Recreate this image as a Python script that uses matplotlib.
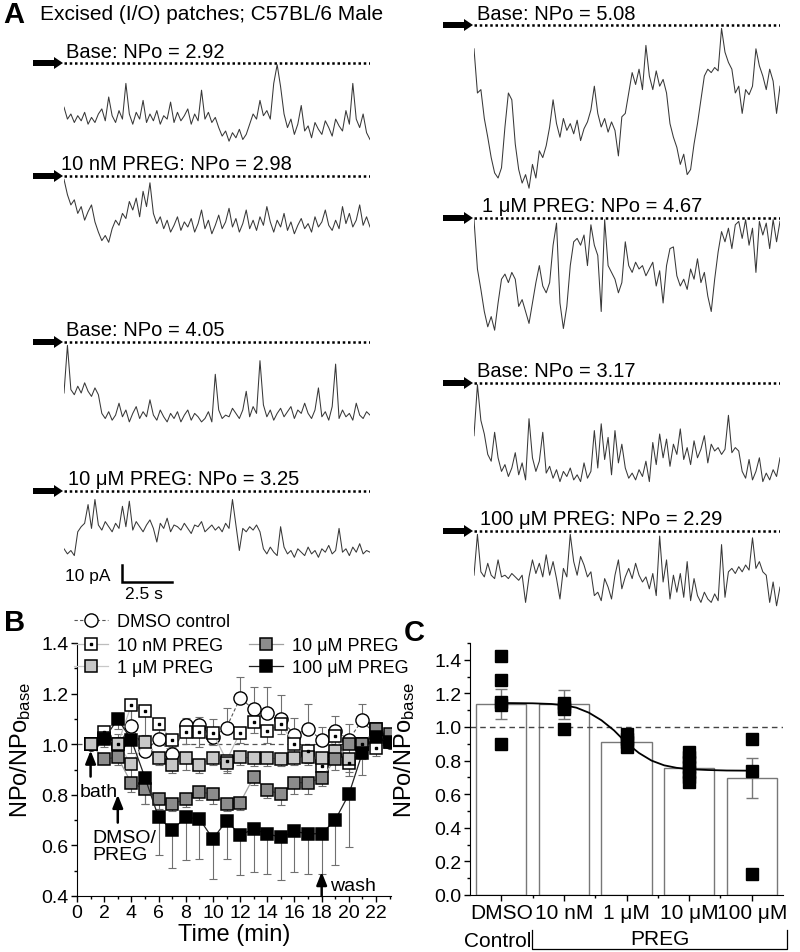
import numpy as np
import matplotlib
matplotlib.use('Agg')
import matplotlib.pyplot as plt
from matplotlib.lines import Line2D
from matplotlib.patches import FancyArrow
from matplotlib.ticker import MultipleLocator, FixedLocator, FormatStrFormatter
from matplotlib.legend_handler import HandlerTuple

plt.rcParams['font.family'] = ['Liberation Sans', 'DejaVu Sans']
plt.rcParams['mathtext.default'] = 'regular'

# ---------------- data ----------------
# Panel A: single-channel traces, current below closed level (pA)
trace_L1 = [26, 33, 30, 35, 31, 34, 29, 36, 32, 35,
            30, 27, 34, 20, 31, 35, 28, 33, 12, 30,
            36, 29, 33, 22, 35, 30, 34, 28, 36, 31,
            33, 23, 35, 29, 34, 31, 27, 36, 30, 34,
            16, 33, 29, 35, 32,
            38, 43, 40, 46, 41, 44, 39, 45, 42,
            36, 30, 33, 22, 31, 28, 33,
            12, 1, 14,
            30, 38, 33, 42, 36, 25, 40, 37, 44, 35,
            39, 42, 34, 38, 43, 33, 37, 40, 28, 36,
            12, 33, 38, 30, 41, 45]
trace_L2 = [2, 11, 17, 14, 22, 18, 26, 21, 17, 27,
            33, 38, 35, 39, 31, 26, 29, 22, 25, 15,
            20, 13, 24, 9, 18, 4,
            22, 28, 24, 31, 26, 33, 29, 24, 32, 27,
            30, 25, 33, 28, 20, 31, 26, 34, 29, 23,
            31, 27, 19, 30, 25, 33, 28, 20, 31, 26,
            32, 24, 29, 18, 27, 33, 26, 30, 22, 32,
            27, 34, 29, 25, 31, 28, 33, 24, 30, 27,
            20, 29, 32, 26, 31, 18, 28, 22, 30, 26,
            17, 29, 24, 30]
trace_L3 = [30, 2, 28,
            31, 26, 30, 24, 29, 32, 27, 31,
            42, 45, 41, 46, 43, 36, 44, 40, 47, 42,
            38, 45, 41, 44, 34, 43, 46, 40, 44, 47,
            42, 45, 41, 47, 43, 40, 46, 42, 44, 47,
            45, 41, 47, 19, 40, 45, 43, 44, 39, 42,
            45, 40, 29, 44, 38, 42, 11, 37, 44, 40,
            46, 42, 39, 44, 41, 38, 45, 40, 42, 36,
            42, 45, 40, 27, 44, 41, 46, 38, 13, 45,
            40, 44, 42, 46, 36, 43, 45, 41, 43]
trace_L4 = [34, 37, 35, 38,
            24, 21, 19, 8, 22, 5, 20, 23, 18, 21,
            24, 19, 22, 9, 21, 6, 23, 18, 21, 24,
            20, 17, 22, 30, 19, 22, 16, 24, 20, 21,
            23, 19, 22, 25, 20, 21, 18, 24, 22, 20,
            23, 21, 24, 19, 22, 5, 20, 35, 22, 24,
            21, 23, 20, 24,
            34, 37, 33, 36, 38, 21, 33, 37, 35, 39,
            34, 36, 38, 33, 37, 35, 39, 34, 36, 32,
            37, 35, 22, 36, 34, 38, 33, 36, 31, 37, 35, 36]
trace_R1 = [14, 40, 38, 55, 66, 78, 87, 90, 84, 60,
            40, 44, 70, 85, 93, 88, 96, 82, 90, 74,
            78, 71, 60, 44, 58, 66, 55, 62, 58, 64,
            56, 68, 61, 57, 50, 36, 52, 60, 55, 63,
            57, 62, 77, 54, 52, 40, 28, 35, 26, 38,
            12, 30, 38, 27, 36, 32, 40, 58, 66, 72,
            82, 76, 88, 85, 70, 58, 44, 30, 26, 28,
            25, 27, 2, 16, 22, 26, 40, 36, 52, 38,
            41, 36, 14, 24, 30, 38, 26, 33, 52, 36]
trace_R2 = [1, 30, 42, 55, 64, 58, 66, 50, 36, 33,
            38, 32, 36, 52, 48, 55, 62, 50, 38, 28,
            40, 44, 38, 16, 3, 50, 65, 52, 28, 14,
            12, 16, 10, 28, 4, 16, 22, 55, 1, 28,
            32, 36, 44, 38, 14, 28, 32, 26, 30, 28,
            34, 30, 26, 40, 31, 50, 28, 18, 17, 34,
            40, 36, 42, 30, 36, 24, 38, 32, 46, 55,
            36, 20, 8, 14, 6, 18, 4, 2, 12, 1,
            16, 6, 32, 2, 10, 3, 18, 1, 14, 2]
trace_R3 = [31, 1, 22, 30, 42, 46, 29, 44, 52, 48,
            55, 50, 41, 54, 47, 57, 21, 44, 52, 46,
            29, 53, 49, 56, 51, 58, 52, 55, 50, 57,
            54, 58, 47, 56, 52, 28, 50, 24, 45, 32,
            54, 28, 47, 36, 50, 56, 53, 57, 51, 55,
            46, 58, 35, 48, 30, 44, 33, 49, 36, 42,
            27, 45, 38, 48, 34, 44, 39, 31, 47, 36,
            40, 38, 42, 39, 19, 41, 38, 40, 52, 56,
            45, 57, 52, 44, 58, 53, 57, 51, 55, 44]
trace_R4 = [26, 2, 24, 27, 19, 26, 28, 17, 27, 26,
            28, 25, 27, 29, 26, 42, 27, 17, 25, 19,
            27, 14, 26, 18, 28, 40, 22, 27, 2, 18,
            26, 15, 20, 27, 24, 38, 36, 41, 28, 33,
            40, 26, 17, 34, 27, 22, 28, 19, 26, 30,
            27, 34, 25, 38, 3, 30, 17, 40, 26, 36,
            25, 39, 18, 41, 28, 38, 42, 36, 40, 42,
            37, 41, 8, 39, 24, 22, 25, 21, 24, 20,
            23, 4, 22, 18, 24, 26, 42, 30, 44, 33]
trace_labels_left = ['Base: NPo = 2.92', '10 nM PREG: NPo = 2.98',
                     'Base: NPo = 4.05', '10 μM PREG: NPo = 3.25']
trace_labels_right = ['Base: NPo = 5.08', '1 μM PREG: NPo = 4.67',
                      'Base: NPo = 3.17', '100 μM PREG: NPo = 2.29']

# Panel B: time course (min), NPo/NPo_base
time_min = np.arange(1, 24)
dmso = [1.00, 1.03, 1.00, 1.07, 0.975, 1.02, 0.96, 1.074, 1.076, 1.03, 1.066, 1.182,
        1.138, 1.122, 1.099, 1.037, 1.06, 1.017, 1.053, 1.018, 1.096, 1.03, 1.01]
dmso_err = [0.0, 0.03, 0.04, 0.08, 0.06, 0.085, 0.05, 0.03, 0.03, 0.07, 0.076, 0.085,
            0.087, 0.103, 0.096, 0.066, 0.10, 0.05, 0.057, 0.06, 0.064, 0.04, 0.03]
preg_10n = [1.00, 1.05, 1.00, 1.155, 1.133, 1.08, 1.017, 1.05, 1.047, 1.046, 0.935, 1.046,
            1.086, 1.053, 1.079, 1.00, 0.974, 0.912, 1.034, 0.925, 1.00, 0.984, 1.008]
preg_10n_err = [0.0, 0.03, 0.04, 0.10, 0.16, 0.05, 0.03, 0.05, 0.06, 0.05, 0.04, 0.04,
                0.04, 0.05, 0.04, 0.05, 0.05, 0.06, 0.06, 0.05, 0.06, 0.03, 0.02]
preg_1u = [1.00, 1.024, 1.00, 0.921, 1.01, 0.947, 0.918, 0.947, 0.918, 0.947, 0.925, 0.949,
           0.945, 0.945, 0.942, 0.947, 0.949, 0.947, 0.974, 0.942, 1.00, 1.06, 1.02]
preg_1u_err = [0.0, 0.02, 0.03, 0.06, 0.04, 0.03, 0.03, 0.05, 0.03, 0.03, 0.04, 0.03,
               0.03, 0.03, 0.03, 0.03, 0.03, 0.04, 0.04, 0.05, 0.04, 0.03, 0.02]
preg_10u = [1.00, 0.942, 0.948, 0.846, 0.823, 0.783, 0.764, 0.783, 0.81, 0.804, 0.764, 0.769,
            0.87, 0.817, 0.804, 0.848, 0.848, 0.866, 0.94, 1.00, 1.00, 1.06, 1.04]
preg_10u_err = [0.0, 0.02, 0.03, 0.036, 0.06, 0.04, 0.03, 0.03, 0.03, 0.04, 0.03, 0.03,
                0.03, 0.03, 0.043, 0.046, 0.046, 0.03, 0.04, 0.04, 0.04, 0.03, 0.03]
preg_100u = [1.00, 1.02, 1.10, 1.017, 0.868, 0.711, 0.661, 0.711, 0.705, 0.626, 0.697, 0.642,
             0.664, 0.646, 0.632, 0.655, 0.646, 0.646, 0.701, 0.802, 0.967, 1.03, 1.01]
preg_100u_err = [0.0, 0.03, 0.04, 0.05, 0.105, 0.15, 0.15, 0.17, 0.16, 0.16, 0.15, 0.16,
                 0.17, 0.16, 0.17, 0.16, 0.16, 0.16, 0.18, 0.21, 0.09, 0.03, 0.02]

# Panel C: summary
c_groups = ['DMSO', '10 nM', '1 μM', '10 μM', '100 μM']
c_mean = [1.135, 1.135, 0.91, 0.755, 0.695]
c_sem = [0.09, 0.085, 0.03, 0.04, 0.12]
c_points = [[1.423, 1.278, 1.15, 1.13, 0.897],
            [1.14, 1.12, 1.11, 0.99],
            [0.96, 0.93, 0.91, 0.88],
            [0.85, 0.82, 0.79, 0.76, 0.73, 0.70, 0.67],
            [0.927, 0.736, 0.127]]
fit_x = [0, 0.5, 0.8, 1.0, 1.2, 1.4, 1.6, 1.8, 2.0, 2.2, 2.4, 2.6, 2.8, 3.0, 3.3, 3.6, 4.0]
fit_y = [1.143, 1.141, 1.137, 1.13, 1.115, 1.085, 1.04, 0.98, 0.905, 0.845, 0.80, 0.772,
         0.757, 0.749, 0.744, 0.741, 0.74]

# ---------------- figure ----------------
W, H = 800, 953
fig = plt.figure(figsize=(W / 100, H / 100), dpi=100)


def px_axes(left, top, width, height):
    return fig.add_axes([left / W, 1 - (top + height) / H, width / W, height / H])


px_per_pA = 1.7   # 10 pA = 17 px
px_per_s = 20.0   # 2.5 s = 50 px
trace_len = 15.3  # s

left_traces = [trace_L1, trace_L2, trace_L3, trace_L4]
right_traces = [trace_R1, trace_R2, trace_R3, trace_R4]
left_dots = [64, 177, 343, 492]
right_dots = [26, 219, 384, 532]

for traces, dots, x0 in [(left_traces, left_dots, 64), (right_traces, right_dots, 474)]:
    for tr, yd in zip(traces, dots):
        hh = 180
        ax = px_axes(x0, yd - 5, trace_len * px_per_s, hh)
        ax.set_xlim(0, trace_len)
        ax.set_ylim((hh - 5) / px_per_pA, -5 / px_per_pA)
        ax.axis('off')
        tt = np.linspace(0, trace_len, len(tr))
        ax.plot(tt, tr, color='#383838', lw=0.75)
        ax.plot([0, trace_len], [0, 0], color='k', lw=1.8, ls=(0, (1, 1.1)))

# ---------------- panel B ----------------
axB = px_axes(77, 644, 314, 253)
axB.axhline(1.0, color='#555555', ls=(0, (4, 3)), lw=0.9, zorder=1)
z = np.zeros(len(time_min))

series = [
    (preg_10n, preg_10n_err, '#bdbdbd', 'white'),
    (preg_1u, preg_1u_err, '#c8c8c8', '#c8c8c8'),
    (preg_10u, preg_10u_err, '#a0a0a0', '#8c8c8c'),
    (preg_100u, preg_100u_err, '#222222', 'black'),
]

axB.errorbar(time_min, dmso, yerr=[z, dmso_err], fmt='none', ecolor='#707070',
             elinewidth=0.8, capsize=3, capthick=0.8, zorder=2)
axB.plot(time_min, dmso, ls=(0, (3, 2)), color='#555555', lw=0.8, marker='o', ms=9.5,
         mfc='white', mec='k', mew=1.0, zorder=3)
handles = []
for vals, err, lc, fc in series:
    axB.errorbar(time_min, vals, yerr=[err, z], fmt='none', ecolor='#707070',
                 elinewidth=0.8, capsize=3, capthick=0.8, zorder=2)
    ln, = axB.plot(time_min, vals, color=lc, lw=0.9, marker='s', ms=9,
                   mfc=fc, mec='k', mew=1.1, zorder=4)
    handles.append(ln)
axB.plot(time_min, preg_10n, ls='none', marker='s', ms=1.6, color='k', zorder=5)
# the shared starting point at t = 1 min shows as a light-grey square
axB.plot(time_min[:1], preg_1u[:1], ls='none', marker='s', ms=9, mfc='#c8c8c8',
         mec='k', mew=1.1, zorder=6)

axB.set_xlim(0, 23.1)
axB.set_ylim(0.4, 1.4)
axB.xaxis.set_major_locator(MultipleLocator(2))
axB.xaxis.set_minor_locator(MultipleLocator(1))
axB.yaxis.set_major_locator(MultipleLocator(0.2))
axB.yaxis.set_minor_locator(MultipleLocator(0.1))
axB.yaxis.set_major_formatter(FormatStrFormatter('%.1f'))
for s in ['top', 'right']:
    axB.spines[s].set_visible(False)
axB.tick_params(labelsize=14, length=4, width=1, pad=2)
axB.tick_params(which='minor', length=2, width=1)
axB.set_xlabel('Time (min)', fontsize=17)
axB.xaxis.set_label_coords(0.5, -0.105)
axB.set_ylabel('NPo/NPo$_{base}$', fontsize=17)
axB.yaxis.set_label_coords(-0.14, 0.58)

arrow_kw = dict(arrowstyle='-|>,head_length=0.55,head_width=0.22', color='k', lw=1.8,
                mutation_scale=14, shrinkA=0, shrinkB=0)
axB.annotate('', xy=(1, 0.975), xytext=(1, 0.872), arrowprops=arrow_kw)
axB.text(0.2, 0.813, 'bath', fontsize=14, va='center')
axB.annotate('', xy=(3, 0.80), xytext=(3, 0.69), arrowprops=arrow_kw, annotation_clip=False)
axB.text(1.1, 0.596, 'DMSO/\nPREG', fontsize=14, va='center', linespacing=1.0)
axB.annotate('', xy=(18, 0.495), xytext=(18, 0.40), arrowprops=arrow_kw, annotation_clip=False)
axB.text(18.6, 0.44, 'wash', fontsize=14, va='center')

h_dmso = Line2D([], [], ls=(0, (3, 2)), color='#555555', lw=0.8, marker='o', ms=9.5,
                mfc='white', mec='k', mew=1.0)
h_dot = Line2D([], [], ls='none', marker='s', ms=1.6, color='k')
leg_kw = dict(loc='upper left', bbox_transform=fig.transFigure, frameon=False,
              fontsize=13, handlelength=1.9, handletextpad=0.5, borderpad=0,
              borderaxespad=0)
leg1 = axB.legend([h_dmso], ['DMSO control'], bbox_to_anchor=(74 / W, 1 - 614 / H), **leg_kw)
axB.add_artist(leg1)
axB.legend([(handles[0], h_dot), handles[1], handles[2], handles[3]],
           ['10 nM PREG', '1 μM PREG', '10 μM PREG', '100 μM PREG'],
           handler_map={tuple: HandlerTuple(ndivide=1)}, ncol=2,
           bbox_to_anchor=(74 / W, 1 - 638 / H), labelspacing=0.3, columnspacing=1.4,
           **leg_kw)

# ---------------- panel C ----------------
axC = px_axes(470, 644, 313, 252)
xc = np.arange(len(c_groups))
axC.bar(xc, c_mean, width=0.8, color='white', edgecolor='#777777', lw=1.0, zorder=1)
axC.errorbar(xc, c_mean, yerr=c_sem, fmt='none', ecolor='#777777', elinewidth=1.0,
             capsize=4, capthick=1.0, zorder=2)
axC.axhline(1.0, color='#444444', ls=(0, (4, 3)), lw=1.0, zorder=2)
for i, pts in enumerate(c_points):
    axC.plot([xc[i]] * len(pts), pts, ls='none', marker='s', ms=8, color='k', zorder=4)
axC.plot(fit_x, fit_y, color='k', lw=1.3, zorder=3)
axC.set_xlim(-0.5, 4.5)
axC.set_ylim(0, 1.5)
axC.set_xticks(xc)
axC.set_xticklabels(c_groups, fontsize=15)
axC.xaxis.set_minor_locator(FixedLocator([0.5, 1.5, 2.5, 3.5]))
axC.yaxis.set_major_locator(FixedLocator([0, 0.2, 0.4, 0.6, 0.8, 1.0, 1.2, 1.4]))
axC.yaxis.set_minor_locator(MultipleLocator(0.1))
axC.yaxis.set_major_formatter(FormatStrFormatter('%.1f'))
for s in ['top', 'right']:
    axC.spines[s].set_visible(False)
axC.tick_params(axis='y', labelsize=14)
axC.tick_params(length=4, width=1, pad=2)
axC.tick_params(which='minor', length=2, width=1)
axC.set_ylabel('NPo/NPo$_{base}$', fontsize=17)
axC.yaxis.set_label_coords(-0.17, 0.58)

# ---------------- overlay: labels, arrows, scale bar ----------------
ov = fig.add_axes([0, 0, 1, 1])
ov.set_xlim(0, W)
ov.set_ylim(H, 0)
ov.axis('off')
ov.patch.set_alpha(0)

ov.text(3, 15, 'A', fontsize=21, fontweight='bold', va='center', ha='left')
ov.text(40, 15, 'Excised (I/O) patches; C57BL/6 Male', fontsize=15, va='center', ha='left')
ov.text(4, 623, 'B', fontsize=21, fontweight='bold', va='center', ha='left')
ov.text(404, 633, 'C', fontsize=21, fontweight='bold', va='center', ha='left')

lab_left_x = [66, 61, 66, 68]
lab_right_x = [477, 482, 477, 480]
for labs, dots, lx, x0 in [(trace_labels_left, left_dots, lab_left_x, 64),
                           (trace_labels_right, right_dots, lab_right_x, 474)]:
    for lab, yd, xx in zip(labs, dots, lx):
        ov.text(xx, yd - 12, lab, fontsize=14.5, va='center', ha='left')
        ov.add_patch(FancyArrow(x0 - 31, yd, 30, 0, width=6, head_width=12, head_length=9,
                                length_includes_head=True, color='k', lw=0))

# scale bar
sb_x, sb_y = 122, 583
ov.plot([sb_x, sb_x, sb_x + 2.5 * px_per_s], [sb_y - 10 * px_per_pA, sb_y, sb_y],
        color='k', lw=1.8, solid_joinstyle='miter')
ov.text(88, 577, '10 pA', fontsize=12.5, va='center', ha='center')
ov.text(144, 595, '2.5 s', fontsize=12.5, va='center', ha='center')

# PREG bracket under panel C
ov.text(498, 942, 'Control', fontsize=15, va='center', ha='center')
ov.plot([532, 532, 787, 787], [931, 950, 950, 931], color='k', lw=0.9)
ov.text(660, 940, 'PREG', fontsize=15, va='center', ha='center')

fig.savefig('out.png', dpi=100)
